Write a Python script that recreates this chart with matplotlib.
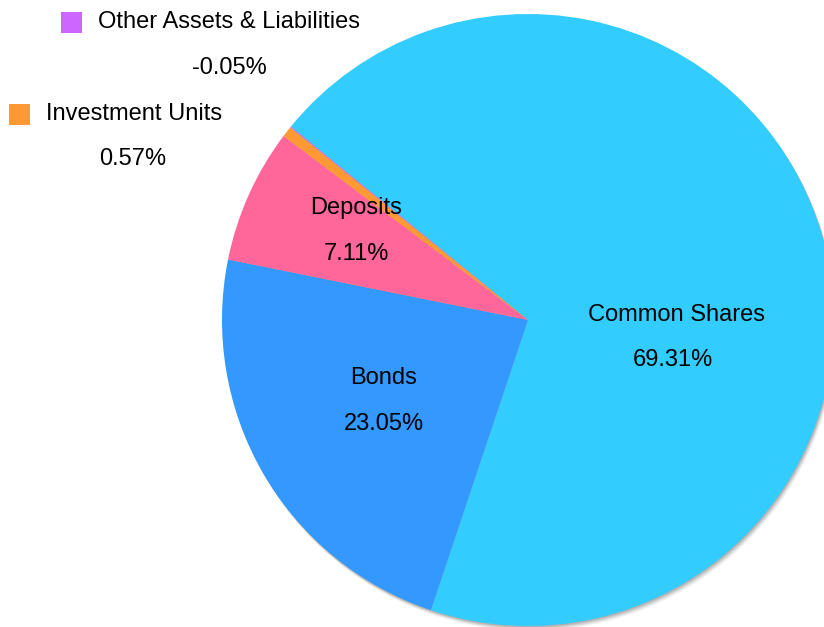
import matplotlib
matplotlib.use('Agg')
import matplotlib.pyplot as plt
from matplotlib.patches import Circle, Rectangle

plt.rcParams['font.family'] = ['Liberation Sans', 'DejaVu Sans']

# DATA
categories = ['Common Shares', 'Bonds', 'Deposits', 'Investment Units', 'Other Assets & Liabilities']
values = [69.31, 23.05, 7.11, 0.57, -0.05]
colours = ['#33CCFF', '#3399FF', '#FF6699', '#FF9933', '#CC66FF']

W, H = 824, 627
cx, cy, r = 528, H - 320, 306

fig = plt.figure(figsize=(W / 100, H / 100), dpi=100)
ax = fig.add_axes([0, 0, 1, 1])

# soft shadow, bottom-right of the pie
for k, a in [(5, 0.06), (4, 0.08), (3, 0.10), (2, 0.12), (1, 0.14)]:
    ax.add_patch(Circle((cx + 0.6 * k, cy - k), r, facecolor='#444444', edgecolor='none', alpha=a, zorder=0))

sizes = [abs(v) for v in values]
wedges, _ = ax.pie(sizes, colors=colours, startangle=140.8, counterclock=False,
                   center=(cx, cy), radius=r, frame=True,
                   wedgeprops=dict(linewidth=0, zorder=1))

ax.set_xlim(0, W)
ax.set_ylim(0, H)
ax.set_aspect('equal')
ax.axis('off')

# labels inside the large slices
inside = {
    'Common Shares': (677, 315, 673, 360),
    'Bonds': (384, 378, 384, 424),
    'Deposits': (356, 208, 356, 254),
}
fs = 17
for name, v in zip(categories, values):
    if name in inside:
        x1, y1, x2, y2 = inside[name]
        ax.text(x1, H - y1, name, ha='center', va='center', fontsize=fs, color='black', zorder=5)
        ax.text(x2, H - y2, f'{v:.2f}%', ha='center', va='center', fontsize=fs, color='black', zorder=5)

# legend-style labels for small slices
outside = {
    'Other Assets & Liabilities': (72, 22, 229, 68),
    'Investment Units': (20, 114, 133, 159),
}
for name, v, c in zip(categories, values, colours):
    if name in outside:
        sx, sy, px, py = outside[name]
        ax.add_patch(Rectangle((sx - 10.5, H - sy - 10.5), 21, 21, facecolor=c, edgecolor='none', zorder=5))
        ax.text(sx + 26, H - sy, name, ha='left', va='center', fontsize=fs, color='black', zorder=5)
        ax.text(px, H - py, f'{v:.2f}%', ha='center', va='center', fontsize=fs, color='black', zorder=5)

fig.savefig('out.png', dpi=100)
